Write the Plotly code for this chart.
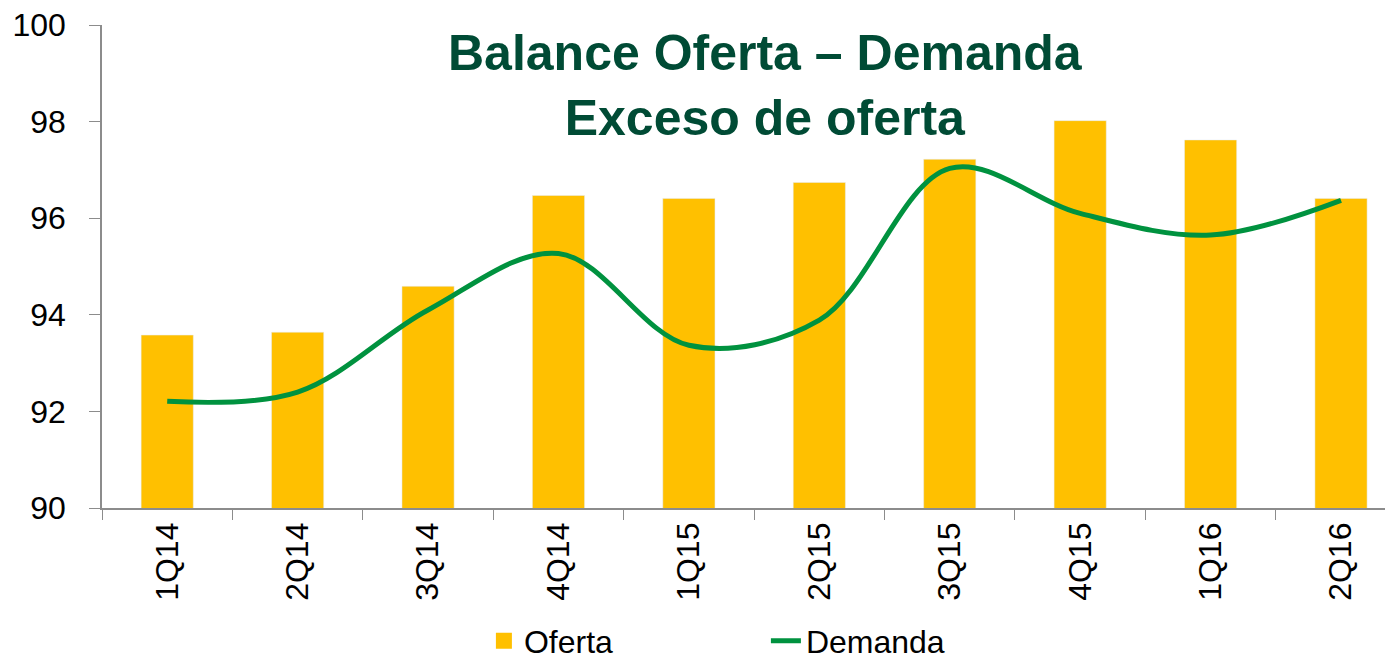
import plotly.graph_objects as go

categories = ["1Q14", "2Q14", "3Q14", "4Q14", "1Q15", "2Q15", "3Q15", "4Q15", "1Q16", "2Q16"]
oferta = [93.58, 93.64, 94.59, 96.47, 96.41, 96.74, 97.22, 98.02, 97.62, 96.41]
demanda = [92.21, 92.40, 94.10, 95.27, 93.37, 93.89, 97.03, 96.10, 95.65, 96.37]
y_ticks = [90, 92, 94, 96, 98, 100]

BAR_COLOR = "#FFC000"
LINE_COLOR = "#00923F"

fig = go.Figure()
fig.add_trace(go.Bar(x=categories, y=oferta, name="Oferta", marker_color=BAR_COLOR,
                     width=0.4, showlegend=False))
# legend-only proxy for the bar series (bigger swatch)
fig.add_trace(go.Scatter(x=[None], y=[None], name="Oferta", mode="markers",
                         marker=dict(symbol="square", size=30, color=BAR_COLOR)))
fig.add_trace(go.Scatter(x=categories, y=demanda, name="Demanda", mode="lines",
                         line=dict(color=LINE_COLOR, width=5, shape="spline", smoothing=1.0)))

L, T, W, H = 94, 17, 1393, 660
PH = 483
B = H - T - PH
PW = W - L

fig.update_layout(
    width=W, height=H,
    margin=dict(l=L, r=0, t=T, b=B, autoexpand=False),
    plot_bgcolor="white", paper_bgcolor="white",
    font=dict(family="Liberation Sans", color="black", size=32),
    showlegend=True,
    legend=dict(orientation="h", x=0.294, y=-(633 - (T + PH)) / PH, xanchor="left", yanchor="middle",
                font=dict(size=32), itemsizing="trace",
                entrywidthmode="pixels", entrywidth=237),
    annotations=[dict(text="Balance Oferta – Demanda<br>Exceso de oferta",
                      xref="x domain", yref="y domain",
                      x=(757 - L) / PW, y=1 - (77 - T) / PH,
                      xanchor="center", yanchor="middle", showarrow=False,
                      font=dict(family="Liberation Sans", size=50, color="#004B35", weight="bold"))],
)
fig.update_xaxes(type="category", range=[-0.5, 9.46], showline=True, linecolor="#8c8c8c", linewidth=1.5,
                 ticks="outside", tickson="boundaries", ticklen=10, tickcolor="#8c8c8c",
                 tickangle=-90, showgrid=False, ticklabeloverflow="allow")
fig.update_yaxes(range=[90, 100], tickvals=y_ticks, showline=True, linecolor="#8c8c8c", linewidth=1.5,
                 ticks="outside", ticklen=11, tickcolor="#8c8c8c", showgrid=False, zeroline=False,
                 ticklabelstandoff=17, ticklabeloverflow="allow")

fig.write_html("out.html")
